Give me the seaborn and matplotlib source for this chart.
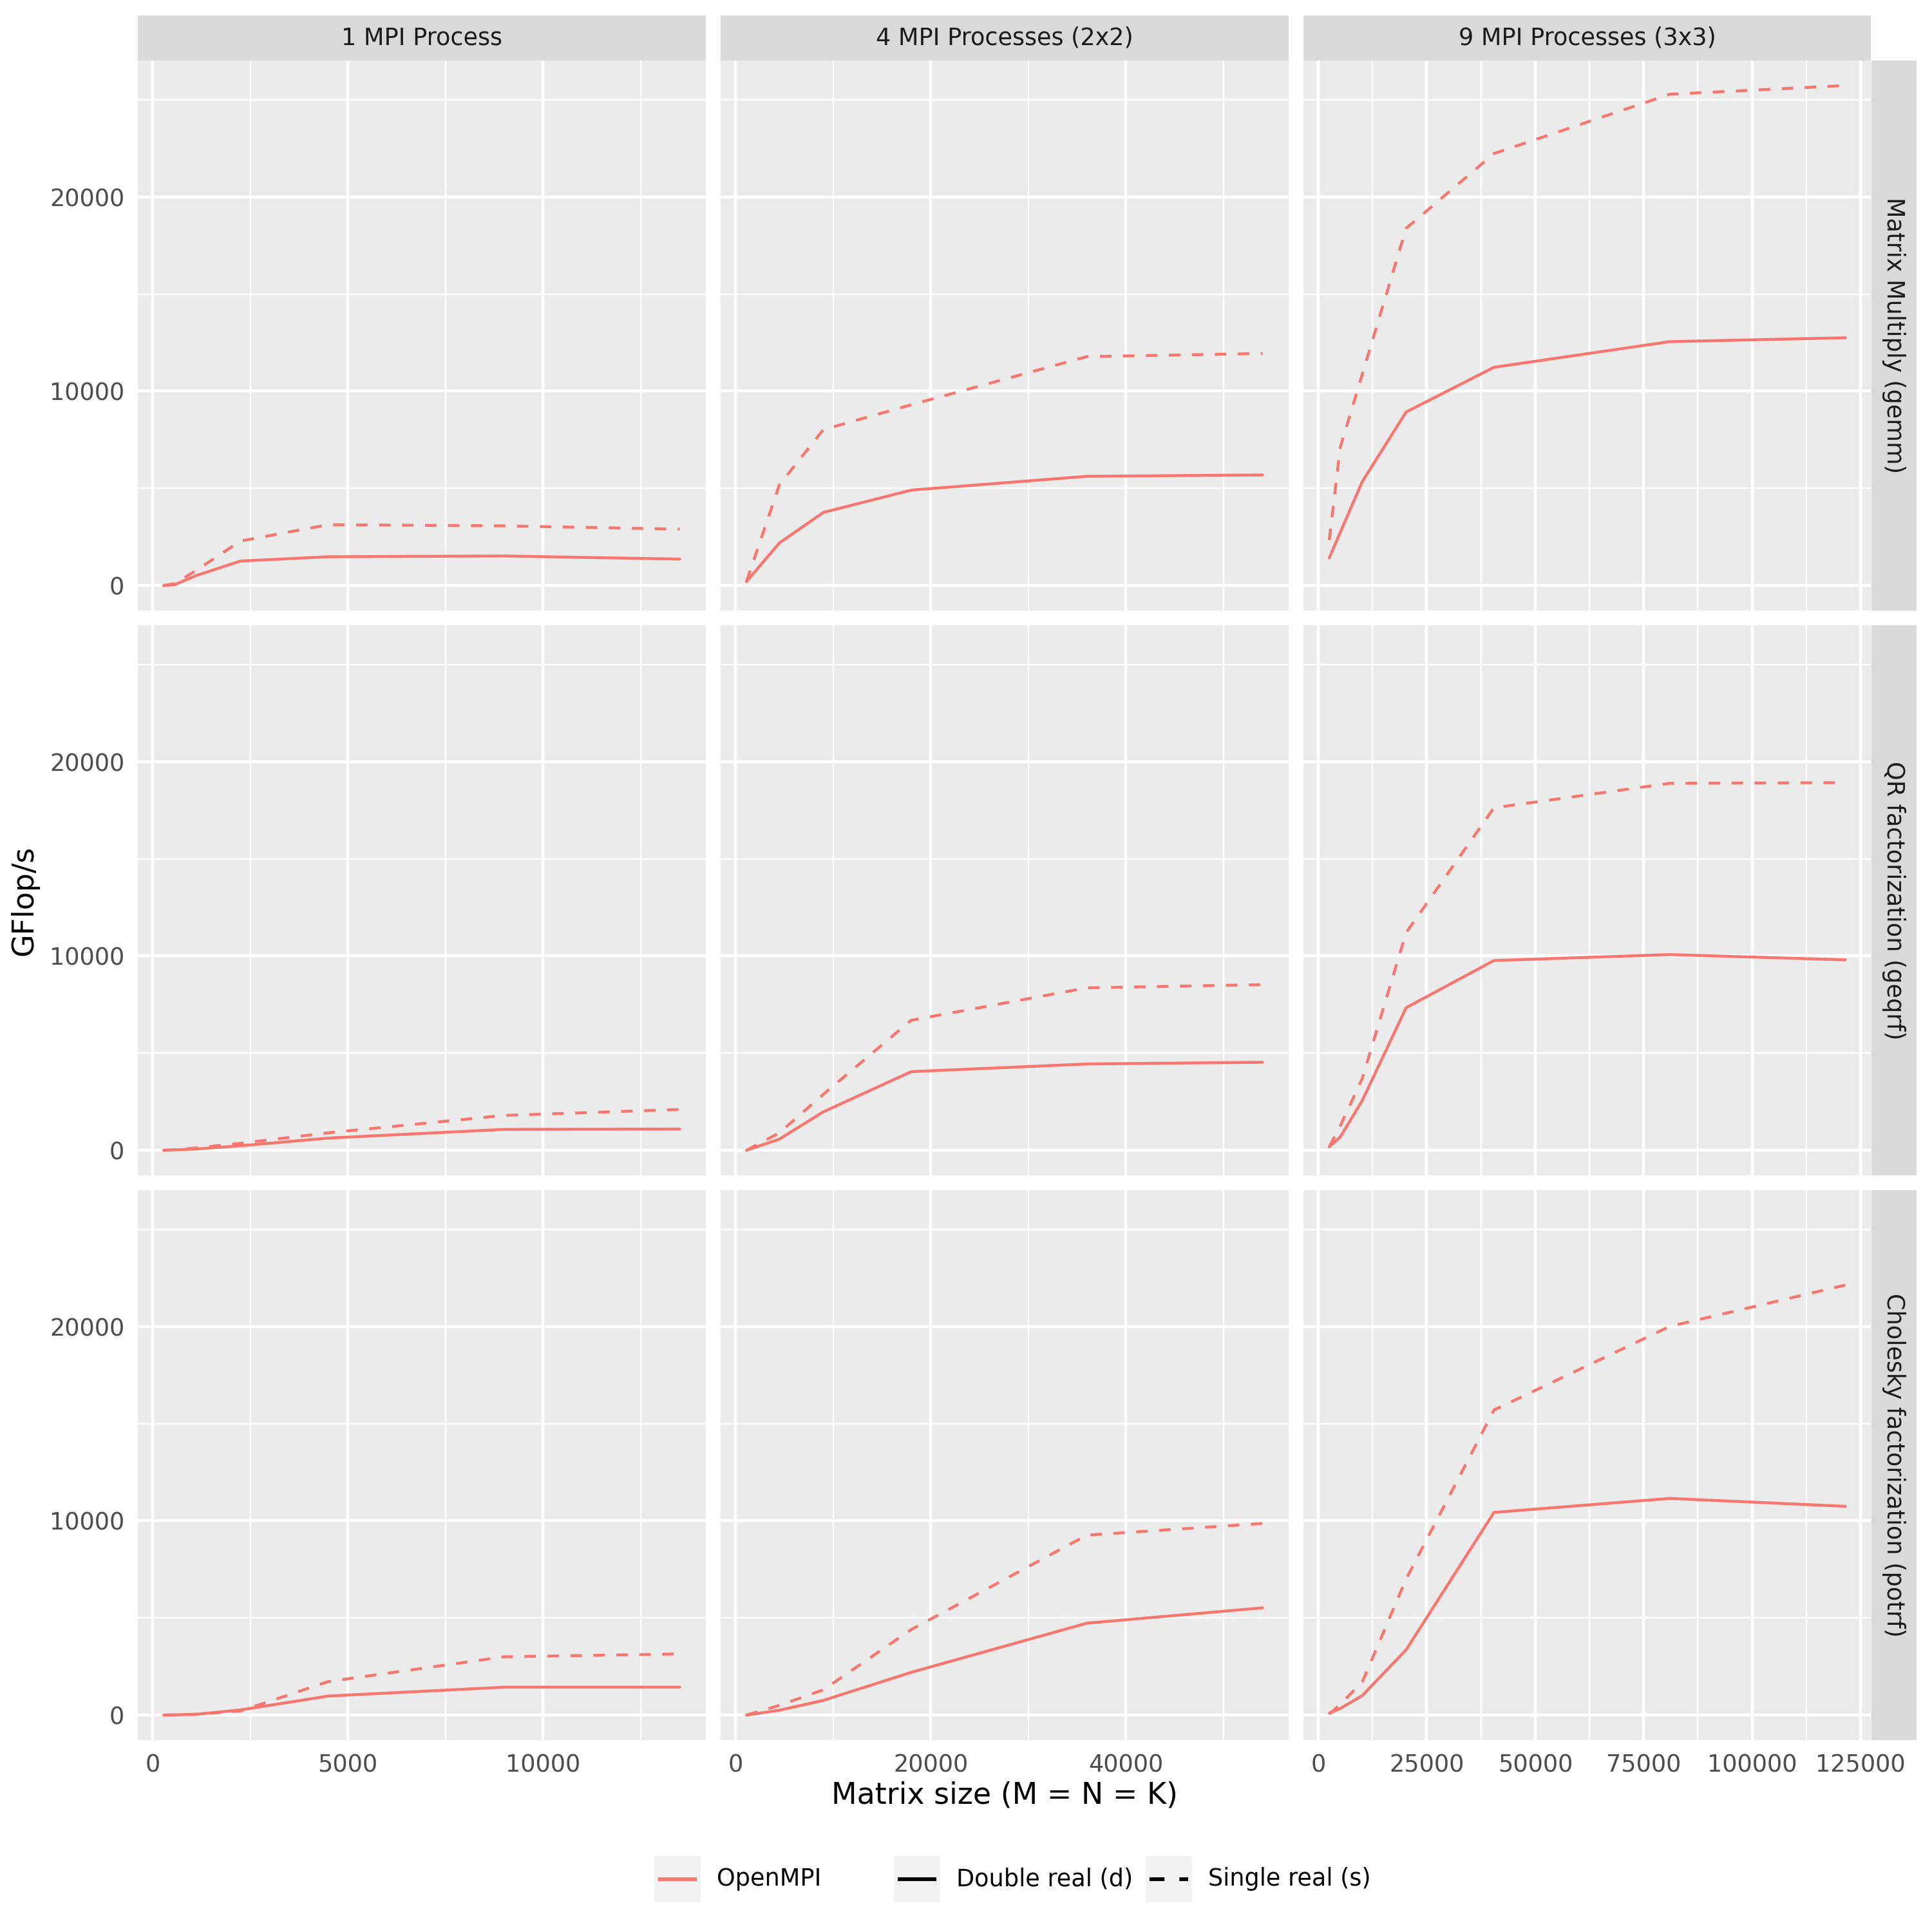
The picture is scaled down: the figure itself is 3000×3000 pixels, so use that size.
import numpy as np
import pandas as pd
import matplotlib
matplotlib.use("Agg")
import matplotlib.pyplot as plt
from matplotlib.lines import Line2D
from matplotlib.patches import Rectangle
import seaborn as sns

# ---------------- data ----------------
col_labels = ["1 MPI Process", "4 MPI Processes (2x2)", "9 MPI Processes (3x3)"]
row_labels = ["Matrix Multiply (gemm)", "QR factorization (geqrf)", "Cholesky factorization (potrf)"]
precisions = ["Double real (d)", "Single real (s)"]
impl_name = "OpenMPI"

sizes_1 = [281, 562, 1125, 2250, 4500, 9000, 13500]
sizes_4 = [1125, 4500, 9000, 18000, 36000, 54000]
sizes_9 = [2531, 5062, 10125, 20250, 40500, 81000, 121500]

gemm_d_1 = [0, 40, 520, 1260, 1480, 1520, 1360]
gemm_s_1 = [0, 100, 790, 2290, 3130, 3070, 2900]
gemm_d_4 = [200, 2190, 3760, 4910, 5620, 5690]
gemm_s_4 = [200, 5180, 8020, 9300, 11780, 11940]
gemm_d_9 = [1420, 2730, 5340, 8930, 11230, 12550, 12750]
gemm_s_9 = [2340, 7110, 10860, 18380, 22230, 25280, 25730]

qr_d_1 = [0, 20, 70, 233, 628, 1077, 1095]
qr_s_1 = [0, 30, 125, 360, 900, 1795, 2100]
qr_d_4 = [0, 575, 1978, 4047, 4442, 4532]
qr_s_4 = [0, 900, 2880, 6690, 8360, 8525]
qr_d_9 = [180, 683, 2554, 7338, 9766, 10072, 9802]
qr_s_9 = [180, 1250, 3690, 11200, 17626, 18885, 18920]

chol_d_1 = [0, 10, 44, 265, 980, 1436, 1436]
chol_s_1 = [0, 10, 40, 210, 1726, 3000, 3147]
chol_d_4 = [0, 250, 755, 2200, 4730, 5520]
chol_s_4 = [0, 500, 1300, 4400, 9260, 9860]
chol_d_9 = [100, 340, 1000, 3360, 10430, 11150, 10745]
chol_s_9 = [50, 550, 1700, 7000, 15700, 20000, 22130]

x_ticks_1 = [0, 5000, 10000]
x_ticks_4 = [0, 20000, 40000]
x_ticks_9 = [0, 25000, 50000, 75000, 100000, 125000]
y_ticks = [0, 10000, 20000]

sizes = {col_labels[0]: sizes_1, col_labels[1]: sizes_4, col_labels[2]: sizes_9}
series = {
    (row_labels[0], col_labels[0]): (gemm_d_1, gemm_s_1),
    (row_labels[0], col_labels[1]): (gemm_d_4, gemm_s_4),
    (row_labels[0], col_labels[2]): (gemm_d_9, gemm_s_9),
    (row_labels[1], col_labels[0]): (qr_d_1, qr_s_1),
    (row_labels[1], col_labels[1]): (qr_d_4, qr_s_4),
    (row_labels[1], col_labels[2]): (qr_d_9, qr_s_9),
    (row_labels[2], col_labels[0]): (chol_d_1, chol_s_1),
    (row_labels[2], col_labels[1]): (chol_d_4, chol_s_4),
    (row_labels[2], col_labels[2]): (chol_d_9, chol_s_9),
}
x_ticks = {col_labels[0]: x_ticks_1, col_labels[1]: x_ticks_4, col_labels[2]: x_ticks_9}

records = []
for (op, proc), (dvals, svals) in series.items():
    for prec, vals in zip(precisions, (dvals, svals)):
        for sz, v in zip(sizes[proc], vals):
            records.append(dict(op=op, procs=proc, precision=prec, impl=impl_name,
                                size=sz, gflops=v))
df = pd.DataFrame(records)

# ---------------- style ----------------
sns.set_style("darkgrid", {"axes.facecolor": "#EBEBEB", "grid.color": "white"})
plt.rcParams["font.family"] = ["DejaVu Sans"]

LINE_COLOR = "#F8766D"
LW = 1.07
W = H = 3000.0

fig = plt.figure(figsize=(10, 10), dpi=300)
fig.patch.set_facecolor("white")


def fig_rect(x, y, w, h):
    return [x / W, 1 - (y + h) / H, w / W, h / H]


col_left = [214, 1119, 2024]
panel_w = 881.5
row_top = [94, 971, 1848]
panel_h = 854
strip_top = 23.5
strip_w = 70.5

# y limits (shared, ggplot 5% expansion)
ymin, ymax = df["gflops"].min(), df["gflops"].max()
yr = ymax - ymin
ylim = (ymin - 0.05 * yr, ymax + 0.05 * yr)

for ri, op in enumerate(row_labels):
    for ci, proc in enumerate(col_labels):
        ax = fig.add_axes(fig_rect(col_left[ci], row_top[ri], panel_w, panel_h))
        sub = df[(df.op == op) & (df.procs == proc)]
        sns.lineplot(data=sub, x="size", y="gflops", hue="impl", style="precision",
                     palette={impl_name: LINE_COLOR},
                     dashes={precisions[0]: "", precisions[1]: (4, 4)},
                     style_order=precisions, linewidth=LW, legend=False,
                     estimator=None, errorbar=None, ax=ax)
        colsub = df[df.procs == proc]
        xmin, xmax = colsub["size"].min(), colsub["size"].max()
        xr = xmax - xmin
        xlim = (xmin - 0.05 * xr, xmax + 0.05 * xr)
        xt = x_ticks[proc]
        step = xt[1] - xt[0]
        minor_x = [t + step / 2 for t in xt if xlim[0] <= t + step / 2 <= xlim[1]]
        minor_y = [t + 5000 for t in y_ticks if ylim[0] <= t + 5000 <= ylim[1]]
        ax.set_xticks(xt)
        ax.set_xticks(minor_x, minor=True)
        ax.set_yticks(y_ticks)
        ax.set_yticks(minor_y, minor=True)
        ax.set_xlim(*xlim)
        ax.set_ylim(*ylim)
        ax.set_facecolor("#EBEBEB")
        ax.grid(which="major", color="white", linewidth=LW)
        ax.grid(which="minor", color="white", linewidth=LW / 2)
        ax.set_axisbelow(True)
        for s in ax.spines.values():
            s.set_visible(False)
        ax.set_xlabel("")
        ax.set_ylabel("")
        ax.tick_params(which="minor", length=0)
        ax.tick_params(which="major", length=2.75, width=LW, color="#333333",
                       labelsize=8.8, labelcolor="#4D4D4D", pad=2.2)
        if ci == 0:
            ax.set_yticklabels([str(t) for t in y_ticks])
        else:
            ax.tick_params(axis="y", which="major", length=0, labelleft=False)
        if ri == len(row_labels) - 1:
            ax.set_xticklabels([str(t) for t in xt])
        else:
            ax.tick_params(axis="x", which="major", length=0, labelbottom=False)

        # strips
        if ri == 0:
            sax = fig.add_axes(fig_rect(col_left[ci], strip_top, panel_w, row_top[0] - strip_top))
            sax.set_facecolor("#D9D9D9")
            sax.set_xticks([]); sax.set_yticks([])
            for s in sax.spines.values():
                s.set_visible(False)
            sax.text(0.5, 0.5, proc, ha="center", va="center", fontsize=8.8,
                     color="#1A1A1A", transform=sax.transAxes)
        if ci == len(col_labels) - 1:
            rax = fig.add_axes(fig_rect(col_left[ci] + panel_w, row_top[ri], strip_w, panel_h))
            rax.set_facecolor("#D9D9D9")
            rax.set_xticks([]); rax.set_yticks([])
            for s in rax.spines.values():
                s.set_visible(False)
            rax.text(0.5, 0.5, op, ha="center", va="center", fontsize=8.8,
                     color="#1A1A1A", rotation=-90, transform=rax.transAxes)

# axis titles
fig.text(1560 / W, 1 - 2788 / H, "Matrix size (M = N = K)", ha="center", va="center",
         fontsize=11, color="black")
fig.text(38 / W, 1 - 1398 / H, "GFlop/s", ha="center", va="center", rotation=90,
         fontsize=11, color="black")

# legend (drawn as figure decorations)
key_y = 2882
key_size = 72
legend_items = [
    (1016, LINE_COLOR, "-", impl_name),
    (1388, "black", "-", precisions[0]),
    (1779, "black", (0, (4, 4)), precisions[1]),
]
for kx, color, ls, label in legend_items:
    fig.add_artist(Rectangle((kx / W, 1 - (key_y + key_size) / H), key_size / W, key_size / H,
                             transform=fig.transFigure, facecolor="#F2F2F2",
                             edgecolor="none"))
    yc = 1 - (key_y + key_size / 2) / H
    fig.add_artist(Line2D([(kx + 6) / W, (kx + key_size - 6) / W], [yc, yc],
                          transform=fig.transFigure, color=color, linestyle=ls,
                          linewidth=LW * 1.3, solid_capstyle="butt", dash_capstyle="butt"))
    fig.text((kx + key_size + 25) / W, yc, label, ha="left", va="center",
             fontsize=8.8, color="black")

fig.savefig("out.png", dpi=300, facecolor="white")
